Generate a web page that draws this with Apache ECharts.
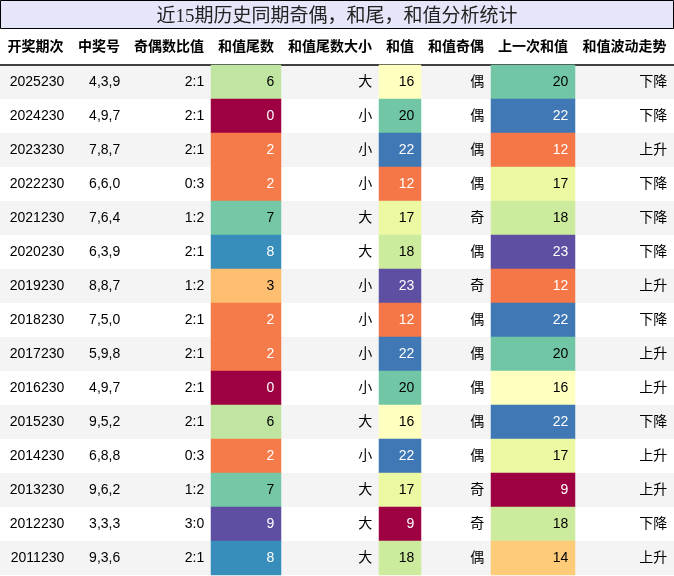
<!DOCTYPE html>
<html>
<head>
<meta charset="utf-8">
<script src="https://cdn.jsdelivr.net/npm/echarts@6/dist/echarts.min.js"></script>
<style>
  html, body { margin: 0; padding: 0; background: #fff; }
  #main { width: 674px; height: 576px; }
</style>
</head>
<body>
<div id="main"></div>
<script>
const headers = ['开奖期次', '中奖号', '奇偶数比值', '和值尾数', '和值尾数大小', '和值', '和值奇偶', '上一次和值', '和值波动走势'];
const periods = ['2025230', '2024230', '2023230', '2022230', '2021230', '2020230', '2019230', '2018230', '2017230', '2016230', '2015230', '2014230', '2013230', '2012230', '2011230'];
const numbers = ['4,3,9', '4,9,7', '7,8,7', '6,6,0', '7,6,4', '6,3,9', '8,8,7', '7,5,0', '5,9,8', '4,9,7', '9,5,2', '6,8,8', '9,6,2', '3,3,3', '9,3,6'];
const ratios = ['2:1', '2:1', '2:1', '0:3', '1:2', '2:1', '1:2', '2:1', '2:1', '2:1', '2:1', '0:3', '1:2', '3:0', '2:1'];
const tails = [6, 0, 2, 2, 7, 8, 3, 2, 2, 0, 6, 2, 7, 9, 8];
const tailSize = ['大', '小', '小', '小', '大', '大', '小', '小', '小', '小', '大', '小', '大', '大', '大'];
const sums = [16, 20, 22, 12, 17, 18, 23, 12, 22, 20, 16, 22, 17, 9, 18];
const parity = ['偶', '偶', '偶', '偶', '奇', '偶', '奇', '偶', '偶', '偶', '偶', '偶', '奇', '奇', '偶'];
const prevSums = [20, 22, 12, 17, 18, 23, 12, 22, 20, 16, 22, 17, 9, 18, 14];
const trend = ['下降', '下降', '上升', '下降', '下降', '下降', '上升', '下降', '上升', '上升', '下降', '上升', '上升', '下降', '上升'];

const columns = [periods, numbers, ratios, tails, tailSize, sums, parity, prevSums, trend];
const colored = [3, 5, 7];
const spectral = ['#9e0142', '#d53e4f', '#f46d43', '#fdae61', '#fee08b', '#ffffbf', '#e6f598', '#abdda4', '#66c2a5', '#3288bd', '#5e4fa2'];

// column edges in px
const edges = [0, 71, 127, 211, 281, 379, 421, 491, 575, 674];
const tableTop = 65, rowH = 34;
const rows = periods.map((_, i) => String(i));

let myChart = echarts.init(document.getElementById('main'));

const font = "'Liberation Sans', 'Noto Sans CJK SC', sans-serif";

let grids = [{ left: 0, width: 674, top: tableTop, height: rowH * rows.length }];
let xAxes = [{
    gridIndex: 0, type: 'value', position: 'top', min: 0, max: 1,
    axisLine: { show: true, lineStyle: { color: '#000', width: 1.5 } },
    axisTick: { show: false }, axisLabel: { show: false }, splitLine: { show: false }
}];
let yAxes = [{
    gridIndex: 0, type: 'category', data: rows, inverse: true,
    axisLine: { show: false }, axisTick: { show: false }, axisLabel: { show: false },
    splitLine: { show: false },
    splitArea: { show: true, areaStyle: { color: ['#f4f4f4', '#ffffff'] } }
}];
let series = [];
let visualMaps = [];

columns.forEach((col, c) => {
    const g = c + 1;
    grids.push({ left: edges[c], width: edges[c + 1] - edges[c], top: tableTop, height: rowH * rows.length });
    xAxes.push({
        gridIndex: g, type: 'category', data: [headers[c]], position: 'top',
        axisLine: { show: false }, axisTick: { show: false },
        axisLabel: { margin: 11, fontSize: 14, fontWeight: 'bold', color: '#000', fontFamily: font }
    });
    yAxes.push({
        gridIndex: g, type: 'category', data: rows, inverse: true, show: false
    });
    const isColor = colored.includes(c);
    let mn = 0, mx = 1;
    if (isColor) { mn = Math.min(...col); mx = Math.max(...col); }
    const data = col.map((v, i) => {
        let item = { value: [0, i, isColor ? v : 0] };
        if (isColor) {
            const t = (v - mn) / (mx - mn);
            item.label = { color: (t < 0.3 || t > 0.85) ? '#ffffff' : '#000000' };
        }
        return item;
    });
    series.push({
        type: 'heatmap', xAxisIndex: g, yAxisIndex: g, data: data,
        itemStyle: isColor ? {} : { color: 'rgba(0,0,0,0)' },
        label: {
            show: true, position: 'insideRight', distance: 7,
            fontSize: 14, color: '#000', fontFamily: font,
            formatter: p => String(col[p.dataIndex])
        },
        emphasis: { disabled: true }
    });
    if (isColor) {
        visualMaps.push({
            type: 'continuous', show: false, seriesIndex: series.length - 1,
            dimension: 2, min: mn, max: mx, inRange: { color: spectral }
        });
    }
});

let option = {
    animation: false,
    title: {
        text: '近15期历史同期奇偶，和尾，和值分析统计',
        left: 'center', top: 3,
        textStyle: { fontSize: 19, fontWeight: 'normal', color: '#222', fontFamily: "'Liberation Serif', 'Noto Sans CJK SC', serif" }
    },
    graphic: [{
        type: 'rect', z: -1,
        shape: { x: 0.5, y: 0.5, width: 673, height: 28 },
        style: { fill: '#e6e6fa', stroke: '#000', lineWidth: 1 }
    }],
    grid: grids,
    xAxis: xAxes,
    yAxis: yAxes,
    visualMap: visualMaps,
    series: series
};

option && myChart.setOption(option);
</script>
</body>
</html>
